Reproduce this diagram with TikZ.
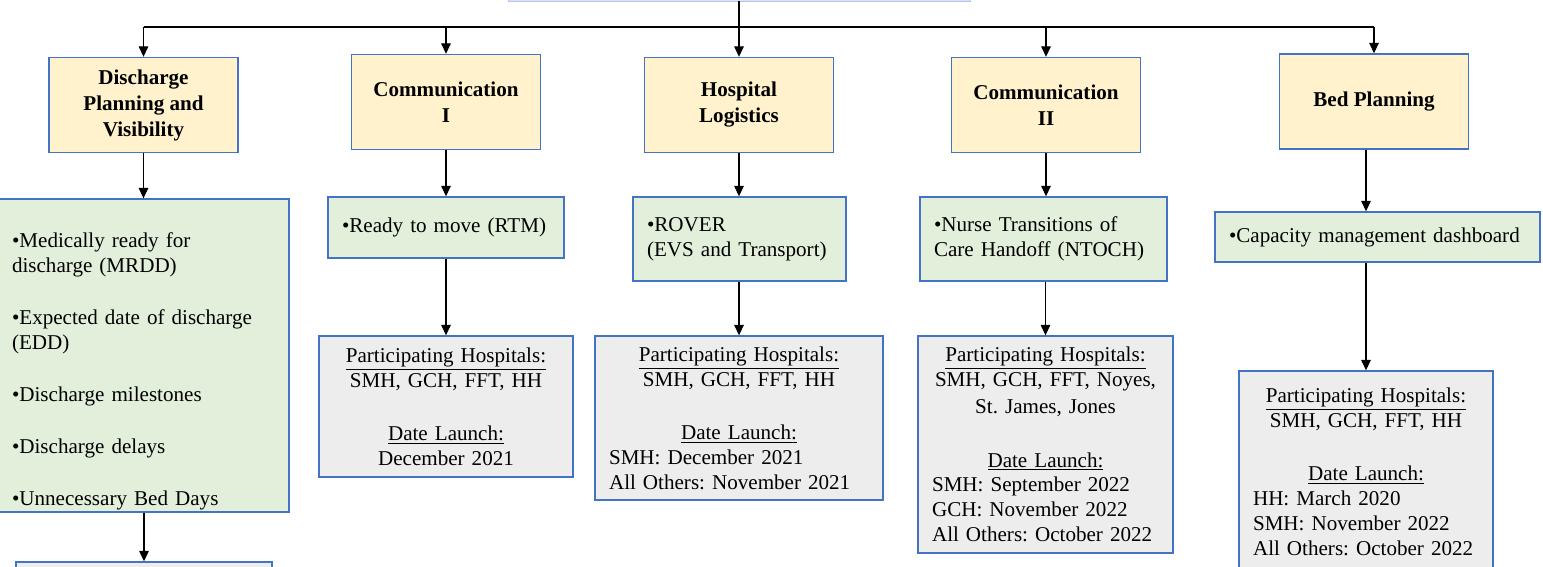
\documentclass[tikz,border=0pt]{standalone}
\usepackage{fontspec}
\setmainfont{Liberation Serif}
\newfontfamily\bodyfont{Liberation Serif}
\usetikzlibrary{positioning, arrows.meta}
\definecolor{edge}{HTML}{4472C4}
\definecolor{ybox}{HTML}{FFF2CC}
\definecolor{gbox}{HTML}{E2EFDA}
\definecolor{pbox}{HTML}{EDEDED}
\definecolor{rbox}{HTML}{DAE3F3}
\definecolor{redge}{HTML}{B4C7E7}
\frenchspacing

\begin{document}
\begin{tikzpicture}[x=0.02cm, y=-0.02cm, font=\bodyfont\fontsize{12}{14.2}\selectfont,
  box/.style={rectangle, draw=edge, line width=0.8pt, inner xsep=0.28cm, inner ysep=0pt},
  head/.style={box, fill=ybox, minimum width=3.78cm, minimum height=1.9cm, align=center, font=\bodyfont\fontsize{12}{14.8}\selectfont\bfseries},
  item/.style={box, fill=gbox, align=left},
  info/.style={box, fill=pbox, align=left},
  arr/.style={-{Triangle[length=6pt,width=5.5pt]}, line width=0.6pt}]
\useasboundingbox (0,0) rectangle (1543,567);
% top box (cut off)
\node (root) [rectangle, draw=redge, fill=rbox, minimum width=9.24cm, minimum height=1.24cm] at (739,-30) {};
\coordinate (hub) at (739,27);
% headings
\node (b1) [head] at (143.5,105) {Discharge\\Planning and\\Visibility};
\node (b2) [head] at (446,102) {Communication\\I};
\node (b3) [head] at (739,105) {Hospital\\Logistics};
\node (b4) [head] at (1046,105) {Communication\\II};
\node (b5) [head] at (1374,101.5) {Bed Planning};
% tools
\node (g1) [item, minimum width=5.82cm, minimum height=6.26cm, text width=5.26cm] at (143.5,355.5) {%
  \rule{0pt}{26.5pt}\textbullet Medically ready for\\discharge (MRDD)\\[15.5pt]
  \textbullet Expected date of discharge\\(EDD)\\[15.5pt]
  \textbullet Discharge milestones\\[15.5pt]
  \textbullet Discharge delays\\[15.5pt]
  \textbullet Unnecessary Bed Days};
\node (g2) [item, minimum width=4.72cm, minimum height=1.22cm, text width=4.16cm] at (446,227.5) {\textbullet Ready to move (RTM)};
\node (g3) [item, minimum width=4.26cm, minimum height=1.68cm, text width=3.7cm] at (739.5,239) {\textbullet ROVER\\(EVS and Transport)};
\node (g4) [item, minimum width=4.94cm, minimum height=1.68cm, text width=4.38cm] at (1043.5,239) {\textbullet Nurse Transitions of\\Care Handoff (NTOCH)};
\node (g5) [item, minimum width=6.5cm, minimum height=1cm, text width=5.94cm] at (1377.5,237) {\textbullet Capacity management dashboard};
% hospitals and launch dates
\node (p1) [info, minimum width=5.12cm, minimum height=2cm] at (144,612) {};
\node (p2) [info, minimum width=5.08cm, minimum height=2.82cm, text width=4.52cm] at (446,406.5) {%
  {\centering\underline{Participating Hospitals:}\\SMH, GCH, FFT, HH\par}\vspace{16pt}%
  {\centering\underline{Date Launch:}\\December 2021\par}};
\node (p3) [info, minimum width=5.76cm, minimum height=3.28cm, text width=5.2cm] at (739,418) {%
  {\centering\underline{Participating Hospitals:}\\SMH, GCH, FFT, HH\par}\vspace{16pt}%
  {\centering\underline{Date Launch:}\par}SMH: December 2021\\All Others: November 2021};
\node (p4) [info, minimum width=5.1cm, minimum height=4.34cm, text width=4.54cm] at (1045.5,444.5) {%
  {\centering\underline{Participating Hospitals:}\\SMH, GCH, FFT, Noyes,\\[1.5pt]St. James, Jones\par}\vspace{16pt}%
  {\centering\underline{Date Launch:}\par}SMH: September 2022\\GCH: November 2022\\All Others: October 2022};
\node (p5) [info, minimum width=5.08cm, minimum height=4.04cm, text width=4.52cm] at (1366,472) {%
  {\centering\underline{Participating Hospitals:}\\SMH, GCH, FFT, HH\par}\vspace{16pt}%
  {\centering\underline{Date Launch:}\par}HH: March 2020\\SMH: November 2022\\All Others: October 2022};
% connectors
\draw [line width=0.6pt] (root.south) -- (hub);
\draw [line width=0.6pt] (hub -| b1) -- (hub -| b5);
\foreach \n in {b1,b2,b3,b4,b5}
  \draw [arr] (hub -| \n) -- (\n.north);
\draw [arr] (b1.south) -- (b1.south |- g1.north);
\draw [arr] (b2.south) -- (b2.south |- g2.north);
\draw [arr] (b3.south) -- (b3.south |- g3.north);
\draw [arr] (b4.south) -- (b4.south |- g4.north);
\draw [arr] (b5.south -| p5.north) -- (p5.north |- g5.north);
\draw [arr] (g1.south -| p1.north) -- (p1.north);
\draw [arr] (g2.south -| p2.north) -- (p2.north);
\draw [arr] (g3.south -| p3.north) -- (p3.north);
\draw [arr] (g4.south -| p4.north) -- (p4.north);
\draw [arr] (g5.south -| p5.north) -- (p5.north);
\end{tikzpicture}
\end{document}
